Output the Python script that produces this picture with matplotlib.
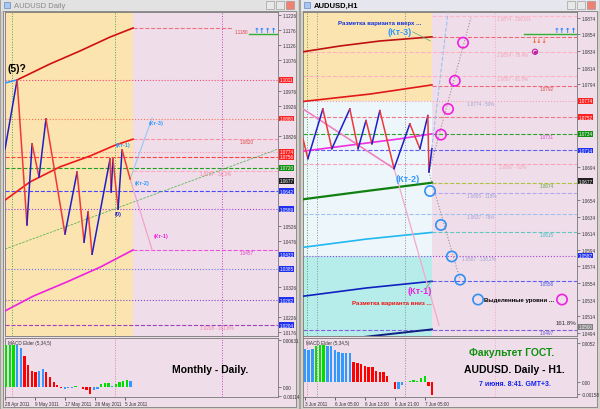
import matplotlib
matplotlib.use("Agg")
import matplotlib.pyplot as plt
import matplotlib.transforms as mtransforms
from matplotlib.patches import Rectangle

plt.rcParams['font.family'] = ['Liberation Sans', 'DejaVu Sans']

# ---------------- data: AUDUSD Daily ----------------
d_zz_x = [0, 3.3, 6.0, 7.4, 9.3, 11.2, 16.4, 19.7, 21.6, 22.7, 23.8, 28.7, 29.0, 29.5, 30.9, 32.0, 34.2]
d_zz_y = [1.0782, 1.1011, 1.0531, 1.0799, 1.0689, 1.0882, 1.0501, 1.0706, 1.0474, 1.0574,
          1.0434, 1.0749, 1.0640, 1.0749, 1.0583, 1.0779, 1.0683]

d_upper_x = [3.3, 12.3, 20.5, 28.7, 35]
d_upper_y = [1.1011, 1.1064, 1.1107, 1.1153, 1.1183]
d_lead_x = [0, 3.3]
d_lead_y = [1.1001, 1.1011]
d_mid_x = [0, 6.8, 15.0, 23.2, 30.1, 35]
d_mid_y = [1.0613, 1.0673, 1.0723, 1.0759, 1.0795, 1.0815]
d_low_x = [0, 7.7, 16.9, 26.0, 35]
d_low_y = [1.0246, 1.0295, 1.0342, 1.0391, 1.0448]
d_trend_x = [0, 74.6]
d_trend_y = [1.0451, 1.0782]
d_up_proj_x = [34.2, 40.2]
d_up_proj_y = [1.0683, 1.0885]
d_dn_proj_x = [34.2, 40.2]
d_dn_proj_y = [1.0683, 1.0448]

d_levels = [1.1183, 1.1011, 1.0883, 1.0815, 1.0774, 1.0756, 1.0720, 1.0709,
            1.0642, 1.0583, 1.0448, 1.0385, 1.0282, 1.0199]
d_level_from = [35, 0, 0, 35, 0, 0, 0, 35, 0, 0, 35, 0, 0, 0]
d_level_to = [62.3, 74.6, 74.6, 74.6, 74.6, 74.6, 74.6, 74.6, 74.6, 74.6, 74.6, 74.6, 74.6, 74.6]

d_ticks = [1.0176 + 0.005 * k for k in range(22)]
d_box_vals = [1.1011, 1.0883, 1.0774, 1.0756, 1.0720, 1.0677, 1.0642, 1.0583, 1.0433, 1.0385, 1.0282, 1.0199]
d_box_text = ['1.1011', '1.0880', '1.0774', '1.0756', '1.0720', '1.0677', '1.0642', '1.0589',
              '1.0433', '1.0385', '1.0282', '1.0204']

d_macd = [0.0056, 0.0056, 0.0056, 0.0056, 0.0052, 0.0042, 0.0029, 0.0022, 0.0020, 0.0022,
          0.0024, 0.0020, 0.0013, 0.00066, 0.00026, -0.00013, -0.0002, -0.0001, -0.00007, 0.00013,
          0.00007, -0.00022, -0.00035, -0.00088, -0.00043, -0.0002, 0.00043, 0.00056, 0.00052, 0.00013,
          0.00043, 0.00066, 0.00088, 0.00096, 0.00079]
d_macd_col = list('GGGBBRRRRBBRRRRRBBBGGRRRBBGGGBGGGGB')
d_dates = ['28 Apr 2011', '9 May 2011', '17 May 2011', '26 May 2011', '5 Jun 2011']
d_date_x = [0, 8.2, 16.4, 24.6, 32.8]

# ---------------- data: AUDUSD H1 ----------------
h_zz_x = [0, 1.3, 5.3, 7.7, 12.5, 14.7, 16.8, 18.4, 20.5, 24.3, 28.5, 31.2, 33.3, 33.6, 34.4]
h_zz_y = [1.0728, 1.0704, 1.0764, 1.0716, 1.0764, 1.0716, 1.0750, 1.0722, 1.0762, 1.0692,
          1.0746, 1.0716, 1.0756, 1.0688, 1.0716]

h_red1_x = [0, 9.9, 20.5, 34.4]
h_red1_y = [1.0833, 1.0840, 1.0846, 1.0851]
h_red2_x = [0, 17.9, 34.4]
h_red2_y = [1.0773, 1.0782, 1.0793]
h_pink_x = [0, 24.3]
h_pink_y = [1.0764, 1.0692]
h_mag_x = [0, 25.9, 34.4]
h_mag_y = [1.0713, 1.0728, 1.0734]
h_green_x = [0, 17, 34.4]
h_green_y = [1.0655, 1.0665, 1.0675]
h_cyan_x = [0, 17, 34.4]
h_cyan_y = [1.0597, 1.0607, 1.0615]
h_blue_x = [0, 17, 34.4]
h_blue_y = [1.0538, 1.0548, 1.0556]
h_navy_x = [12.5, 34.4]
h_navy_y = [1.0487, 1.0498]
h_up_proj_x = [33.6, 38.7]
h_up_proj_y = [1.0688, 1.0881]
h_dn_proj_x = [24.3, 36.3]
h_dn_proj_y = [1.0692, 1.0503]
h_mag_path_x = [33.6, 44.8]
h_mag_path_y = [1.0688, 1.0874]
h_blue_path_x = [33.6, 41.9]
h_blue_path_y = [1.0688, 1.0558]

h_mag_circ_x = [42.7, 40.5, 38.7, 36.8]
h_mag_circ_y = [1.0844, 1.0798, 1.0764, 1.0733]
h_blue_circ_x = [33.9, 36.8, 39.7, 41.9]
h_blue_circ_y = [1.0665, 1.0624, 1.0586, 1.0558]

h_levels = [1.0876, 1.0851, 1.0833, 1.0804, 1.0792, 1.0774, 1.0754, 1.0734, 1.0714,
            1.0697, 1.0675, 1.0662, 1.0637, 1.0615, 1.0587, 1.0556, 1.0497]
h_level_from = [34.4, 34.4, 0, 0, 34.4, 0, 0, 0, 0, 0, 34.4, 34.4, 0, 34.4, 0, 34.4, 0]

h_ticks = [1.0494 + 0.002 * k for k in range(20)]
h_box_vals = [1.0774, 1.0754, 1.0734, 1.0714, 1.0677, 1.0587, 1.0501]
h_box_text = ['1.0774', '1.0752', '1.0734', '1.0714', '1.0677', '1.0587', '1.0500']

h_macd = [0.00442, 0.00425, 0.00433, 0.00485, 0.00498, 0.00498, 0.00477, 0.00477, 0.00425, 0.00399,
          0.00381, 0.00381, 0.0039, 0.00269, 0.0026, 0.00238, 0.00217, 0.00208, 0.00208, 0.00152,
          0.0013, 0.0013, 0.00087, 0.00009, -0.00087, -0.00087, -0.0004, 0.0, 0.00022, 0.00035,
          0.00022, 0.00052, 0.00087, -0.00043, -0.0017]
h_macd_col = list('BBBGGGBBBBBBBRRRRRRRRRRRRBBBGGGGGRR')
h_dates = ['3 Jun 2011', '6 Jun 05:00', '6 Jun 13:00', '6 Jun 21:00', '7 Jun 05:00']
h_date_x = [0.5, 8.5, 16.5, 24.5, 32.5]

# ---------------- helpers ----------------
W, H = 600, 410
YEL = '#FBE4B0'
PINK = '#EFDEEA'
MC = {'G': '#00DD00', 'B': '#3399FF', 'R': '#FF0000'}
UP, DN = '#1E1EC8', '#F03838'
FS = 3.3

fig = plt.figure(figsize=(6, 4.1), dpi=100)
fig.patch.set_facecolor('#D4D0C8')


def px_axes(x0, y0, x1, y1):
    return fig.add_axes([x0 / W, 1 - y1 / H, (x1 - x0) / W, (y1 - y0) / H])


bg = fig.add_axes([0, 0, 1, 1], zorder=-5)
bg.set_xlim(0, W)
bg.set_ylim(H, 0)
bg.axis('off')


def window(x0, x1, title, active):
    bg.add_patch(Rectangle((x0, 0), x1 - x0, H, fc='#D4D0C8', ec='#9A9A9A', lw=0.6))
    bg.add_patch(Rectangle((x0 + 1, 1), x1 - x0 - 2, 11, fc='#E6E6EE' if active else '#E2E2E2', ec='none'))
    bg.add_patch(Rectangle((x0 + 4, 3), 6, 6, fc='#A8C8F0', ec='#5078B0', lw=0.4))
    bg.text(x0 + 14, 6.5, title, fontsize=5.5, va='center', ha='left',
            color='black' if active else '#8A8A8A', fontweight='bold' if active else 'normal')
    for i, fc in enumerate(['#E8E8E8', '#E8E8E8', '#F08070']):
        bx = x1 - 33 + i * 10
        bg.add_patch(Rectangle((bx, 2), 8, 8, fc=fc, ec='#909090', lw=0.4))
    bg.add_patch(Rectangle((x0 + 3, 12), x1 - x0 - 6, H - 14, fc=PINK, ec='#808080', lw=0.6))


window(0, 299, 'AUDUSD Daily', False)
window(300, 600, 'AUDUSD,H1', True)


def boxed(ax, val, txt, color):
    tr = mtransforms.blended_transform_factory(ax.transAxes, ax.transData)
    ax.text(1.006, val, txt, transform=tr, fontsize=FS, color='white', va='center', ha='left',
            bbox=dict(boxstyle='square,pad=0.08', fc=color, ec='none'), clip_on=False, zorder=10)


def style_price_axis(ax, ticks, boxes, gap):
    # MT4 hides the scale labels that sit under a coloured price box
    keep = [t for t in ticks if all(abs(t - b) > gap for b in boxes)]
    ax.yaxis.tick_right()
    ax.set_yticks(keep)
    ax.set_yticklabels(['%.4f' % t for t in keep])
    ax.tick_params(axis='y', labelsize=FS, length=2, width=0.4, pad=1.5, colors='#333333')
    ax.set_xticks([])
    for s in ax.spines.values():
        s.set_color('#777777')
        s.set_linewidth(0.6)


def zigzag(ax, xs, ys, lw=1.1):
    for i in range(len(xs) - 1):
        c = UP if ys[i + 1] > ys[i] else DN
        ax.plot(xs[i:i + 2], ys[i:i + 2], color=c, lw=lw, zorder=5)


def macd_panel(ax, vals, cols, xoff, top, bottom, labels, dates, dx, xmax):
    ax.set_facecolor(PINK)
    ax.set_xlim(0, xmax)
    ax.set_ylim(bottom, top)
    ax.bar([i + xoff for i in range(len(vals))], vals, width=0.62,
           color=[MC[c] for c in cols], zorder=3)
    ax.yaxis.tick_right()
    ax.set_yticks([t for t, _ in labels])
    ax.set_yticklabels([s for _, s in labels])
    ax.tick_params(axis='y', labelsize=FS, length=2, width=0.4, pad=1.5, colors='#333333')
    ax.set_xticks(dx)
    ax.set_xticklabels([])
    ax.tick_params(axis='x', length=2, width=0.4)
    tr = mtransforms.blended_transform_factory(ax.transData, ax.transAxes)
    for x, s in zip(dx, dates):
        ax.text(x, -0.06, s, transform=tr, fontsize=FS, ha='left', va='top', color='#333333', clip_on=False)
    ax.text(0.01, 0.96, 'MACD Elder (5,34,5)', transform=ax.transAxes, fontsize=FS, va='top',
            color='#333333', zorder=6)
    for s in ax.spines.values():
        s.set_color('#777777')
        s.set_linewidth(0.6)


# ---------------- left: Daily ----------------
ax = px_axes(5, 13, 278, 337)
ax.set_xlim(0, 74.6)
ax.set_ylim(1.0163, 1.1236)
ax.set_facecolor(PINK)
ax.axvspan(0, 35, color=YEL, zorder=0, lw=0)
style_price_axis(ax, d_ticks, d_box_vals, 0.0018)

d_col = ['#F07080', '#FF4070', '#FF7050', '#FF8FA0', '#FF90B0', '#FF4040', '#20A020',
         '#FFA8C0', '#4848FF', '#A040E0', '#F050E0', '#7070F0', '#8040D0', '#A040C0']
d_ls = ['--', ':', ':', '--', ':', '--', '--', '--', '--', ':', '--', ':', ':', '--']
for v, a, b, c, s in zip(d_levels, d_level_from, d_level_to, d_col, d_ls):
    ax.plot([a, b], [v, v], color=c, ls=s, lw=0.8, zorder=2)

for xv, c in [(1.9, '#40B040'), (30.1, '#40B040'), (59.3, '#C040C0')]:
    ax.axvline(xv, color=c, ls=':', lw=0.7, zorder=1)

ax.plot(d_trend_x, d_trend_y, color='#40B040', ls='--', lw=0.5, zorder=2)
ax.plot(d_upper_x, d_upper_y, color='#D01010', lw=1.2, zorder=4)
ax.plot(d_lead_x, d_lead_y, color='#3399FF', lw=1.2, zorder=4)
ax.plot(d_mid_x, d_mid_y, color='#F01818', lw=1.2, zorder=4)
ax.plot(d_low_x, d_low_y, color='#F020E0', lw=1.2, zorder=4)
zigzag(ax, d_zz_x, d_zz_y)
ax.plot(d_up_proj_x, d_up_proj_y, color='#99C8F0', lw=0.8, zorder=4)
ax.plot(d_dn_proj_x, d_dn_proj_y, color='#F4A0C8', lw=0.9, zorder=4)

ax.text(3.3, 1.1035, '(5)?', fontsize=7.5, fontweight='bold', ha='center', va='bottom', zorder=6)
ax.text(32.2, 1.0788, '(Кт-1)', fontsize=4, fontweight='bold', color='#3399FF', ha='center', va='bottom', zorder=6)
ax.text(30.9, 1.0578, '(0)', fontsize=4, fontweight='bold', color='#1E1EC8', ha='center', va='top', zorder=6)
ax.text(37.4, 1.0670, '(Кт-2)', fontsize=4, fontweight='bold', color='#3399FF', ha='center', va='center', zorder=6)
ax.text(41.2, 1.0870, '(Кт-3)', fontsize=4, fontweight='bold', color='#3399FF', ha='center', va='center', zorder=6)
ax.text(42.6, 1.0497, '(Кт-1)', fontsize=4, fontweight='bold', color='#F020E0', ha='center', va='center', zorder=6)

ax.text(62.8, 1.1180, '1.1180', fontsize=FS, color='#E04040', va='top', zorder=6)
ax.text(64.2, 1.0815, '1.0820', fontsize=FS, color='#E04040', va='top', zorder=6)
ax.text(53.3, 1.0709, '1.0707 - 38.2%', fontsize=FS, color='#F080A0', va='top', zorder=6)
ax.text(64.2, 1.0448, '1.0457', fontsize=FS, color='#E040C0', va='top', zorder=6)
ax.text(53.3, 1.0199, '1.0208 - 161.8%', fontsize=FS, color='#F080A0', va='top', zorder=6)
ax.plot([66.8, 74.3], [1.1163, 1.1163], color='#30B030', lw=1.0, zorder=6)
ax.text(68.0, 1.1166, '↑↑↑↑', fontsize=5, color='#2080FF', fontweight='bold', va='bottom',
        family=['DejaVu Sans'], zorder=6)

d_box_col = ['#FF2020', '#FF2020', '#FF2020', '#FF2020', '#109010', '#202020',
             '#2030F0', '#2030F0', '#2030F0', '#2030F0', '#2030F0', '#2030F0']
for v, t, c in zip(d_box_vals, d_box_text, d_box_col):
    boxed(ax, v, t, c)

axm = px_axes(5, 339, 278, 398)
macd_panel(axm, d_macd, d_macd_col, 0.3, 0.00655, -0.00131,
           [(0.00631, '0.00631'), (0.0, '0.00'), (-0.00114, '-0.00114')],
           d_dates, d_date_x, 74.6)
for xv, c in [(1.9, '#E080A0'), (30.1, '#E080A0'), (59.3, '#C040C0')]:
    axm.axvline(xv, color=c, ls=':', lw=0.7, zorder=1)
axm.text(0.75, 0.47, 'Monthly - Daily.', transform=axm.transAxes, fontsize=7.5,
         fontweight='bold', ha='center', va='center')

# ---------------- right: H1 ----------------
ax2 = px_axes(303, 13, 577, 337)
ax2.set_xlim(0, 73.1)
ax2.set_ylim(1.0490, 1.0881)
ax2.set_facecolor(PINK)
ax2.add_patch(Rectangle((0, 1.0774), 34.4, 0.0107, fc=YEL, ec='none', zorder=0))
ax2.add_patch(Rectangle((0, 1.0587), 34.4, 0.0187, fc='#EDF6FB', ec='none', zorder=0))
ax2.add_patch(Rectangle((0, 1.0490), 34.4, 0.0097, fc='#B6EDEB', ec='none', zorder=0))
style_price_axis(ax2, h_ticks, h_box_vals, 0.0006)

h_col = ['#FFB8C8', '#F06878', '#FFB0C0', '#FFB0C0', '#F06878', '#F0A0B8', '#F07888', '#30A030',
         '#6060F0', '#FFA0B8', '#B0C040', '#B8A8F0', '#A0C0F0', '#60C8C0', '#A040E0', '#6060F0', '#8060E0']
h_ls = ['--', '--', '--', '--', '--', ':', '--', '--', '--', '--', '--', '--', '--', '--', ':', '--', '--']
for v, a, c, s in zip(h_levels, h_level_from, h_col, h_ls):
    ax2.plot([a, 73.1], [v, v], color=c, ls=s, lw=0.8, zorder=2)

for xv, c in [(1.1, '#40B040'), (3.7, '#909090'), (27.2, '#909090'), (51.2, '#F0A8C8')]:
    ax2.axvline(xv, color=c, ls=':', lw=0.7, zorder=1)

ax2.plot(h_red1_x, h_red1_y, color='#C01010', lw=1.2, zorder=4)
ax2.plot(h_red2_x, h_red2_y, color='#E01818', lw=1.2, zorder=4)
ax2.plot(h_mag_x, h_mag_y, color='#F030E0', lw=1.2, zorder=4)
ax2.plot(h_pink_x, h_pink_y, color='#F080C0', lw=1.2, zorder=4)
ax2.plot(h_green_x, h_green_y, color='#108010', lw=1.6, zorder=4)
ax2.plot(h_cyan_x, h_cyan_y, color='#20B8F0', lw=1.2, zorder=4)
ax2.plot(h_blue_x, h_blue_y, color='#1020C0', lw=1.2, zorder=4)
ax2.plot(h_navy_x, h_navy_y, color='#102080', lw=1.4, zorder=4)
zigzag(ax2, h_zz_x, h_zz_y)
ax2.plot(h_up_proj_x, h_up_proj_y, color='#99C0F0', ls='--', lw=0.8, zorder=4)
ax2.plot(h_dn_proj_x, h_dn_proj_y, color='#F4A8C8', lw=0.9, zorder=4)
ax2.plot(h_mag_path_x, h_mag_path_y, color='#A08890', ls=':', lw=0.8, zorder=4)
ax2.plot(h_blue_path_x, h_blue_path_y, color='#A08890', ls=':', lw=0.8, zorder=4)
ax2.scatter(h_mag_circ_x, h_mag_circ_y, s=55, facecolors='none', edgecolors='#F020E0', linewidths=1.2, zorder=6)
ax2.scatter(h_blue_circ_x, h_blue_circ_y, s=55, facecolors='none', edgecolors='#3390F0', linewidths=1.2, zorder=6)
ax2.scatter([46.7], [1.0534], s=55, facecolors='none', edgecolors='#3390F0', linewidths=1.2, zorder=6)
ax2.scatter([69.1], [1.0534], s=55, facecolors='none', edgecolors='#F020E0', linewidths=1.2, zorder=6)
ax2.scatter([61.9], [1.0833], s=14, facecolors='none', edgecolors='#C020A0', linewidths=0.8, zorder=6)
ax2.scatter([61.9], [1.0833], s=2, color='#C020A0', zorder=6)

ax2.plot([58.9, 73.1], [1.0855, 1.0855], color='#30B030', lw=1.0, zorder=6)
ax2.text(67.0, 1.0856, '↑↑↑↑', fontsize=5, color='#2080FF', fontweight='bold', va='bottom',
         family=['DejaVu Sans'], zorder=6)
ax2.text(61.0, 1.0850, '↓↓↓', fontsize=4.5, color='#F05020', fontweight='bold', va='top',
         family=['DejaVu Sans'], zorder=6)

ax2.text(31.7, 1.0868, 'Разметка варианта вверх ...', fontsize=4.4, fontweight='bold', color='#1030E0',
         ha='right', va='center', zorder=6)
ax2.text(25.9, 1.0857, '(Кт-3)', fontsize=6.5, fontweight='bold', color='#3399FF', ha='center', va='center', zorder=6)
ax2.plot([29.3, 34.0], [1.0857, 1.0846], color='#60A080', lw=0.5, zorder=6)
ax2.text(27.8, 1.0686, '(Кт-2)', fontsize=6.5, fontweight='bold', color='#3399FF', ha='center', va='top', zorder=6)
ax2.text(31.0, 1.0545, '(Кт-1)', fontsize=6.5, fontweight='bold', color='#F020E0', ha='center', va='center', zorder=6)
ax2.plot([32.8, 34.2], [1.0548, 1.0556], color='#60A080', lw=0.5, zorder=6)
ax2.text(34.4, 1.0531, 'Разметка варианта вниз ...', fontsize=4.4, fontweight='bold', color='#F01010',
         ha='right', va='center', zorder=6)
ax2.text(48.3, 1.0534, 'Выделенные уровни ...', fontsize=4.4, fontweight='bold', color='black',
         ha='left', va='center', zorder=6)
ax2.text(73.0, 1.0503, '161.8%', fontsize=4.4, color='#303030', ha='right', va='bottom', zorder=6)

h_lab = [(1.0876, '1.0874 - 200.0%', 51.7, '#F0A0B8'), (1.0833, '1.0834 - 76.4%', 51.7, '#F0A0B8'),
         (1.0804, '1.0807 - 61.8%', 51.7, '#F0A0B8'), (1.0792, '1.0792', 63.2, '#E04040'),
         (1.0774, '1.0774 - 50%', 43.7, '#A0A0D0'), (1.0734, '1.0731', 63.2, '#E040D0'),
         (1.0697, '1.0697 - 62%', 52.4, '#F0A0B8'), (1.0675, '1.0674', 63.2, '#60A040'),
         (1.0662, '1.0665 - 118%', 43.7, '#A0A0D0'), (1.0637, '1.0637 - 76%', 43.7, '#A0A0D0'),
         (1.0615, '1.0615', 63.2, '#40B8C0'), (1.0587, '1.0587 - 138.2%', 42.5, '#A0A0D0'),
         (1.0556, '1.0556', 63.2, '#4050E0'), (1.0497, '1.0497', 63.2, '#6050C0')]
for v, t, xv, c in h_lab:
    ax2.text(xv, v, t, fontsize=FS, color=c, va='top', zorder=6)

h_box_col = ['#FF2020', '#FF2020', '#109010', '#2030F0', '#202020', '#2030F0', '#808080']
for v, t, c in zip(h_box_vals, h_box_text, h_box_col):
    boxed(ax2, v, t, c)

axm2 = px_axes(303, 339, 577, 398)
macd_panel(axm2, h_macd, h_macd_col, 0.5, 0.00585, -0.00195,
           [(0.0052, '0.0052'), (0.0, '0.00'), (-0.00158, '-0.00158')],
           h_dates, h_date_x, 73.1)
for xv, c in [(1.1, '#E080A0'), (3.7, '#909090'), (27.2, '#909090'), (51.2, '#F0A8C8')]:
    axm2.axvline(xv, color=c, ls=':', lw=0.7, zorder=1)
axm2.text(0.763, 0.76, 'Факультет ГОСТ.', transform=axm2.transAxes, fontsize=7.5,
          fontweight='bold', color='#109010', ha='center', va='center')
axm2.text(0.77, 0.47, 'AUDUSD. Daily - H1.', transform=axm2.transAxes, fontsize=7.5,
          fontweight='bold', color='black', ha='center', va='center')
axm2.text(0.774, 0.23, '7 июня. 8:41. GMT+3.', transform=axm2.transAxes, fontsize=5,
          fontweight='bold', color='#1020F0', ha='center', va='center')

fig.savefig('out.png', dpi=100, facecolor=fig.get_facecolor())
